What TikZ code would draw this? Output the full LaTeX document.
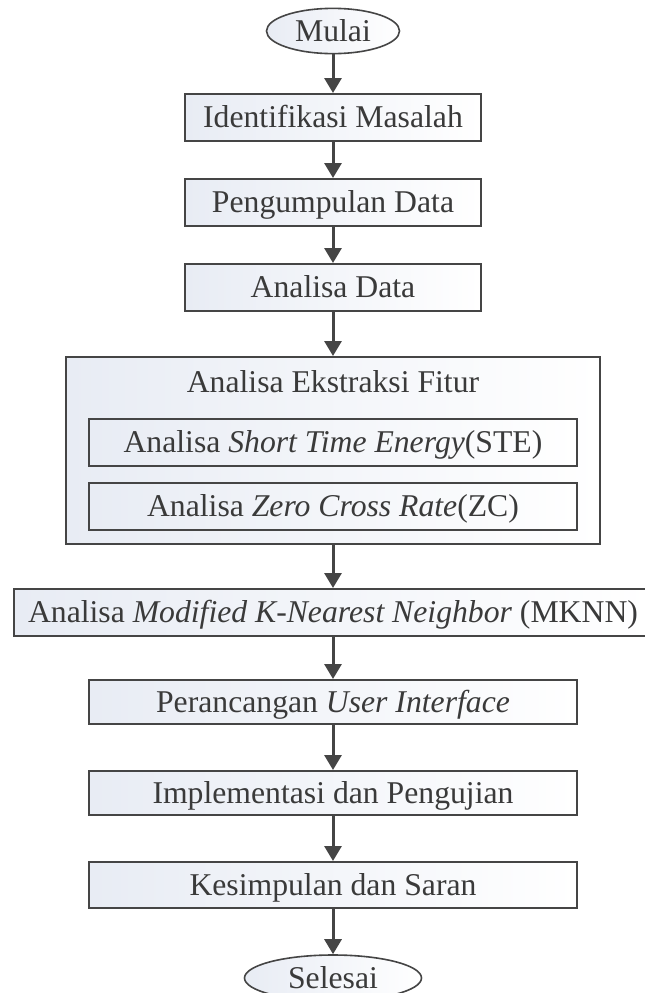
\documentclass[tikz,border=0pt]{standalone}
\usepackage{fontspec}
\setmainfont{Liberation Serif}
\usetikzlibrary{arrows.meta,shapes.geometric}
\definecolor{ln}{HTML}{454545}
\definecolor{tx}{HTML}{3A3A3A}
\definecolor{fl}{HTML}{E8ECF4}
\tikzset{
  box/.style={draw=ln, line width=2bp, left color=fl, right color=white,
    inner sep=0pt, text=tx, align=center, text height=26bp, text depth=6bp},
  term/.style={ellipse, draw=ln, line width=1.6bp, left color=fl, right color=white,
    inner sep=0pt, text=tx, text height=26bp, text depth=6bp},
  lbl/.style={inner sep=0pt, text=tx, text height=26bp, text depth=6bp},
  arr/.style={draw=ln, line width=3bp, -{Triangle[width=17bp,length=15bp]}},
}
\begin{document}
\begin{tikzpicture}[x=1bp,y=-1bp,font=\fontsize{31.7bp}{38bp}\selectfont]
\useasboundingbox (0,0) rectangle (645,993);
\clip (0,0) rectangle (645,993);
\fill[white] (0,0) rectangle (645,993);

\node[term, minimum width=133bp, minimum height=44bp] (mulai) at (333,31) {Mulai};
\node[box, minimum width=296bp, minimum height=47bp] (iden) at (333,117.5) {Identifikasi Masalah};
\node[box, minimum width=296bp, minimum height=47bp] (peng) at (333,202.5) {Pengumpulan Data};
\node[box, minimum width=296bp, minimum height=47bp] (adata) at (333,287.5) {Analisa Data};

\node[box, minimum width=533bp, minimum height=187bp] (big) at (333,450.5) {};
\node[lbl] (bigt) at (333,382) {Analisa Ekstraksi Fitur};
\node[box, minimum width=488bp, minimum height=47bp] (ste) at (333,442.5) {Analisa \textit{Short Time Energy}(STE)};
\node[box, minimum width=488bp, minimum height=47bp] (zc) at (333,506.5) {Analisa \textit{Zero Cross Rate}(ZC)};

\node[box, minimum width=638bp, minimum height=47bp] (mknn) at (333,612.5) {Analisa \textit{Modified K-Nearest Neighbor} (MKNN)};
\node[box, minimum width=488bp, minimum height=44bp] (peran) at (333,702) {Perancangan \textit{User Interface}};
\node[box, minimum width=488bp, minimum height=44bp] (impl) at (333,793) {Implementasi dan Pengujian};
\node[box, minimum width=488bp, minimum height=46bp] (kes) at (333,885) {Kesimpulan dan Saran};
\node[term, minimum width=177bp, minimum height=46bp] (sel) at (333,978) {Selesai};

\draw[arr] (mulai.south) -- (iden.north);
\draw[arr] (iden.south) -- (peng.north);
\draw[arr] (peng.south) -- (adata.north);
\draw[arr] (adata.south) -- (big.north);
\draw[arr] (big.south) -- (mknn.north);
\draw[arr] (mknn.south) -- (peran.north);
\draw[arr] (peran.south) -- (impl.north);
\draw[arr] (impl.south) -- (kes.north);
\draw[arr] (kes.south) -- (sel.north);
\end{tikzpicture}
\end{document}
